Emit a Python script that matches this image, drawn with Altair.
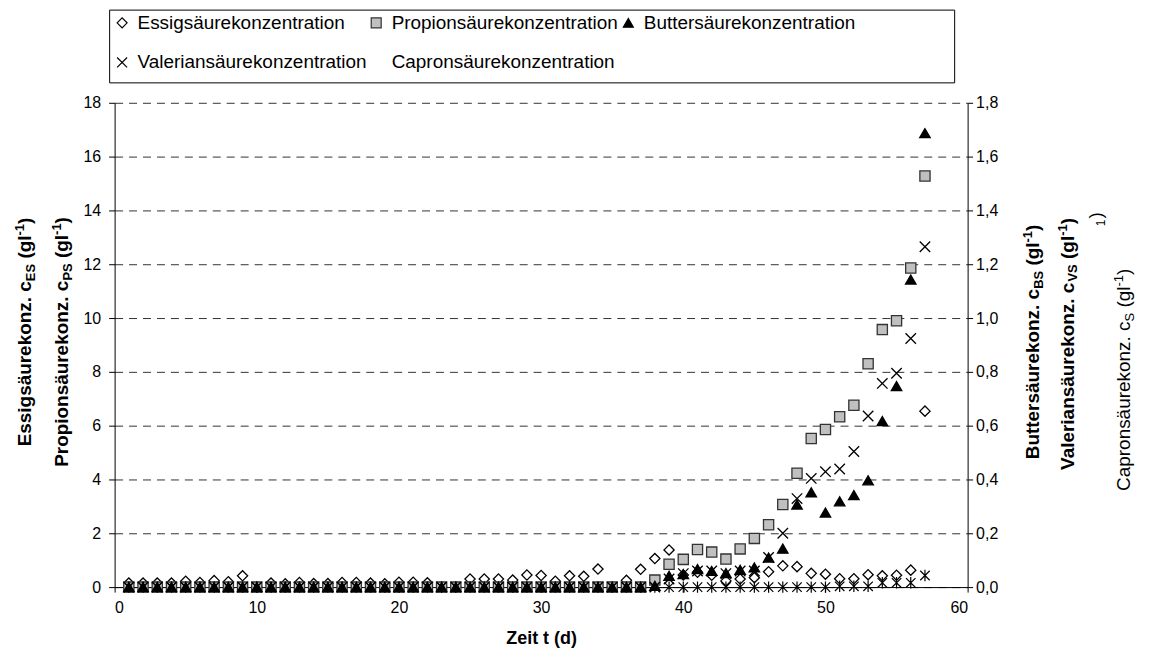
import altair as alt
import pandas as pd

# ---------------- data ----------------
days = list(range(1, 58))

essig = [0.15, 0.15, 0.15, 0.15, 0.22, 0.17, 0.24, 0.20, 0.42, 0.00,
         0.15, 0.12, 0.17, 0.13, 0.13, 0.17, 0.17, 0.15, 0.12, 0.18,
         0.18, 0.16, 0.00, 0.00, 0.30, 0.30, 0.30, 0.26, 0.45, 0.43,
         0.22, 0.42, 0.40, 0.67, 0.00, 0.25, 0.66, 1.06, 1.38, 0.45,
         0.55, 0.44, 0.23, 0.30, 0.35, 0.57, 0.79, 0.76, 0.51, 0.48,
         0.31, 0.31, 0.46, 0.42, 0.44, 0.63, 6.54]

propion = [0.0] * 37 + [0.26, 0.85, 1.03, 1.40, 1.30, 1.04, 1.42, 1.81, 2.32,
                        3.07, 4.23, 5.52, 5.86, 6.33, 6.76, 8.30, 9.57, 9.90,
                        11.86, 15.28]

butter = [0.0] * 37 + [0.005, 0.042, 0.048, 0.067, 0.060, 0.052, 0.064, 0.073,
                       0.110, 0.143, 0.307, 0.352, 0.277, 0.319, 0.342, 0.397,
                       0.617, 0.747, 1.143, 1.687]

valerian = [0.0] * 38 + [0.030, 0.050, 0.060, 0.060, 0.050, 0.060, 0.060,
                         0.110, 0.200, 0.329, 0.404, 0.429, 0.439, 0.504,
                         0.636, 0.757, 0.795, 0.924, 1.265]

capron = [0.0] * 50 + [0.003, 0.003, 0.003, 0.016, 0.016, 0.016, 0.043]

series = ["Essigsäurekonzentration", "Propionsäurekonzentration",
          "Buttersäurekonzentration", "Valeriansäurekonzentration",
          "Capronsäurekonzentration"]

x_ticks = [0, 10, 20, 30, 40, 50, 60]
left_ticks = [0, 2, 4, 6, 8, 10, 12, 14, 16, 18]
right_ticks = [0.0, 0.2, 0.4, 0.6, 0.8, 1.0, 1.2, 1.4, 1.6, 1.8]


def frame(name, vals):
    return pd.DataFrame({"Tag": days, "Wert": vals, "Reihe": name})


left_df = pd.concat([frame(series[0], essig), frame(series[1], propion)])
right_df = pd.concat([frame(series[2], butter), frame(series[3], valerian)])
cap_df = frame(series[4], capron)

# ---------------- styling ----------------
FONT = "Liberation Sans"
XPATH = "M-1,-1L1,1M-1,1L1,-1"
ASTERISK = "M-1,-1L1,1M-1,1L1,-1M0,-1.2L0,1.2"
EMPTY = "M0,0"

shape_scale = alt.Scale(domain=series,
                        range=["diamond", "square", "triangle-up", XPATH, EMPTY])
fill_scale = alt.Scale(domain=series,
                       range=["white", "#C0C0C0", "black", "transparent", "transparent"])
stroke_scale = alt.Scale(domain=series,
                         range=["black", "#333333", "black", "black", "black"])

x_enc = alt.X("Tag:Q", scale=alt.Scale(domain=[0, 60], nice=False),
              axis=alt.Axis(values=x_ticks, title="Zeit t (d)", grid=False,
                            labelFontSize=16, titleFontSize=18, titleFontWeight="bold",
                            tickSize=5, labelPadding=8, titlePadding=14,
                            domainColor="black", tickColor="black"))

left = alt.Chart(left_df).mark_point(filled=True, size=105, strokeWidth=1.3, opacity=1).encode(
    x=x_enc,
    y=alt.Y("Wert:Q", scale=alt.Scale(domain=[0, 18], nice=False),
            axis=alt.Axis(orient="left", values=left_ticks, title=None, grid=True,
                          gridDash=[8, 6], gridColor="#333333", gridWidth=1,
                          labelFontSize=16, tickSize=6, labelPadding=8,
                          domainColor="black", tickColor="black")),
    shape=alt.Shape("Reihe:N", scale=shape_scale),
    fill=alt.Fill("Reihe:N", scale=fill_scale),
    stroke=alt.Stroke("Reihe:N", scale=stroke_scale),
)

right_main = alt.Chart(right_df).mark_point(filled=True, size=110, strokeWidth=1.3, opacity=1).encode(
    x=x_enc,
    y=alt.Y("Wert:Q", scale=alt.Scale(domain=[0, 1.8], nice=False),
            axis=alt.Axis(orient="right", values=right_ticks, title=None, grid=False,
                          labelFontSize=16, tickSize=5, labelPadding=3,
                          labelExpr="replace(format(datum.value, '.1f'), '.', ',')",
                          domainColor="black", tickColor="black")),
    shape=alt.Shape("Reihe:N", scale=shape_scale),
    fill=alt.Fill("Reihe:N", scale=fill_scale),
    stroke=alt.Stroke("Reihe:N", scale=stroke_scale),
)

right_cap = alt.Chart(cap_df).mark_point(filled=False, size=90, strokeWidth=1.2,
                                          shape=ASTERISK, color="black", opacity=1).encode(
    x=x_enc,
    y=alt.Y("Wert:Q", scale=alt.Scale(domain=[0, 1.8], nice=False), axis=None),
)

# legend frame (plot-relative pixels)
legend_box = alt.Chart(pd.DataFrame({"b": [0]})).mark_rect(
    fill="white", fillOpacity=0, stroke="black", strokeWidth=1
).encode(x=alt.value(-5), x2=alt.value(843), y=alt.value(-93), y2=alt.value(-20))

# ---------------- axis titles with sub/superscripts ----------------
REG = {" ": 278, "(": 333, ")": 333, "-": 333, ".": 278, "1": 556, "B": 667,
       "C": 722, "E": 667, "P": 667, "S": 667, "V": 667, "a": 556, "c": 500,
       "e": 556, "g": 556, "i": 222, "k": 500, "l": 222, "n": 556, "o": 556,
       "p": 556, "r": 333, "s": 500, "t": 278, "u": 556, "z": 500, "ä": 556}
BOLD = {" ": 278, "(": 333, ")": 333, "-": 333, ".": 278, "1": 556, "B": 722,
        "C": 722, "E": 667, "P": 667, "S": 667, "V": 667, "a": 556, "c": 556,
        "e": 556, "g": 611, "i": 278, "k": 556, "l": 278, "n": 611, "o": 611,
        "p": 611, "r": 389, "s": 556, "t": 333, "u": 611, "z": 500, "ä": 556}


def tw(s, size, bold):
    tab = BOLD if bold else REG
    return sum(tab.get(ch, 556) for ch in s) * size / 1000.0


def text_layer(txt, x, y, size, bold, angle=270, align="left"):
    return alt.Chart(pd.DataFrame({"t": [txt]})).mark_text(
        text=txt, font=FONT, fontSize=size, fontWeight="bold" if bold else "normal",
        angle=angle, align=align, baseline="alphabetic", color="black",
    ).encode(x=alt.value(x), y=alt.value(y))


def vtitle(prefix, sub, xc, yc, bold, size=19):
    small = round(size * 0.68)
    parts = [(prefix, size, 0), (sub, small, 4), (" (gl", size, 0),
             ("-1", small, -7), (")", size, 0)]
    total = sum(tw(p, s, bold) for p, s, _ in parts)
    yb = yc + total / 2.0
    xb = xc + size * 0.33
    out = []
    cum = 0.0
    for p, s, off in parts:
        stripped = p.lstrip(" ")
        cum += tw(p[: len(p) - len(stripped)], s, bold)
        out.append(text_layer(stripped, xb + off, yb - cum, s, bold))
        cum += tw(stripped, s, bold)
    return out


titles = []
titles += vtitle("Essigsäurekonz. c", "ES", -90, 230, True)
titles += vtitle("Propionsäurekonz. c", "PS", -53, 240, True)
titles += vtitle("Buttersäurekonz. c", "BS", 921, 240, True)
titles += vtitle("Valeriansäurekonz. c", "VS", 956, 242, True)
titles += vtitle("Capronsäurekonz. c", "S", 1013, 278, False)
# stray wrapped piece of the Capron title
titles.append(text_layer("1", 994, 124, 12, False))
titles.append(text_layer(")", 991, 116, 19, False))

chart = alt.layer(legend_box, left, right_main, right_cap, *titles).resolve_scale(
    y="independent"
).properties(
    width=856, height=486,
    autosize=alt.AutoSizeParams(type="none"),
    padding={"left": 107, "top": 94, "right": 175, "bottom": 62},
).configure_view(stroke=None).configure_axis(
    labelFont=FONT, titleFont=FONT, labelColor="black", titleColor="black"
).configure_legend(
    orient="none", legendX=-2, legendY=-90, columns=3, direction="horizontal",
    title=None, padding=0, labelFont=FONT, labelFontSize=19,
    labelColor="black", labelLimit=0, symbolSize=100, symbolStrokeWidth=1.2,
    columnPadding=0, rowPadding=20, labelOffset=6,
)

chart.save("out.html", embed_options={"renderer": "svg", "actions": False})
